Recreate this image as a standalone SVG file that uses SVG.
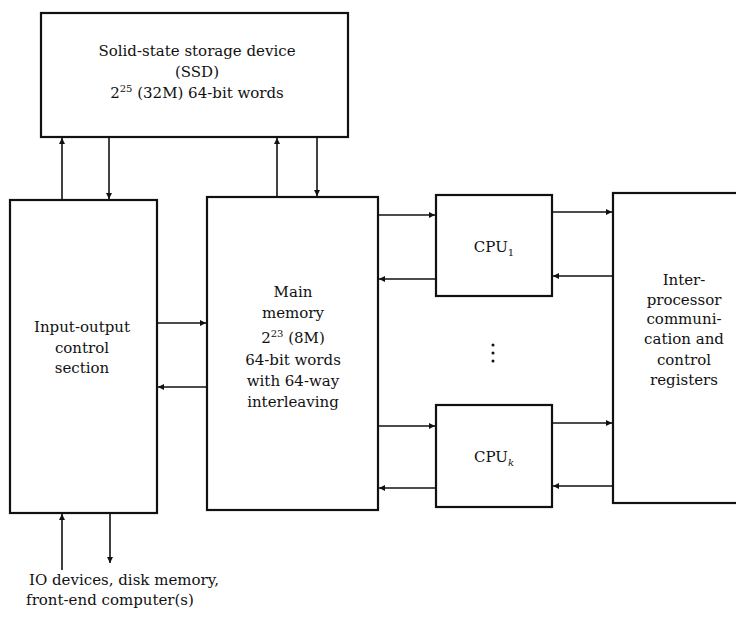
<svg xmlns="http://www.w3.org/2000/svg" width="736" height="618" viewBox="0 0 736 618">
<defs>
<style>
.box{fill:#fff;stroke:#111;stroke-width:2.2}
.t{font-family:"DejaVu Serif","Liberation Serif",serif;font-size:15px;fill:#111;text-anchor:middle}
.c line{stroke:#111;stroke-width:1.6;marker-end:url(#ah)}
</style>
<marker id="ah" viewBox="0 0 10 10" refX="10" refY="5" markerWidth="8" markerHeight="6" markerUnits="userSpaceOnUse" orient="auto">
<path d="M0,0 L10,5 L0,10 z" fill="#111"/>
</marker>
</defs>
<rect width="736" height="618" fill="#fff"/>
<g id="ssd">
<rect class="box" x="41" y="13" width="307" height="124"/>
<text class="t" x="197" y="56">Solid-state storage device</text>
<text class="t" x="197" y="77">(SSD)</text>
<text class="t" x="197" y="98">2<tspan dy="-6" font-size="10">25</tspan><tspan dy="6"> (32M) 64-bit words</tspan></text>
</g>
<g id="io">
<rect class="box" x="10" y="200" width="147" height="313"/>
<text class="t" x="82" y="332">Input-output</text>
<text class="t" x="82" y="353">control</text>
<text class="t" x="82" y="373">section</text>
</g>
<g id="main">
<rect class="box" x="207" y="197" width="171" height="313"/>
<text class="t" x="293" y="297">Main</text>
<text class="t" x="293" y="318">memory</text>
<text class="t" x="293" y="343">2<tspan dy="-6" font-size="10">23</tspan><tspan dy="6"> (8M)</tspan></text>
<text class="t" x="293" y="365">64-bit words</text>
<text class="t" x="293" y="386">with 64-way</text>
<text class="t" x="293" y="407">interleaving</text>
</g>
<g id="cpu1">
<rect class="box" x="436" y="195" width="116" height="101"/>
<text class="t" x="494" y="252">CPU<tspan dy="4" font-size="10">1</tspan></text>
</g>
<g id="dots" fill="#111">
<circle cx="493" cy="345" r="1.5"/>
<circle cx="493" cy="353" r="1.5"/>
<circle cx="493" cy="361" r="1.5"/>
</g>
<g id="cpuk">
<rect class="box" x="436" y="405" width="116" height="102"/>
<text class="t" x="494" y="462">CPU<tspan dy="4" font-size="10" font-style="italic">k</tspan></text>
</g>
<g id="ipc">
<rect class="box" x="613" y="193" width="150" height="310"/>
<text class="t" x="684" y="285">Inter-</text>
<text class="t" x="684" y="305">processor</text>
<text class="t" x="684" y="324">communi-</text>
<text class="t" x="684" y="344">cation and</text>
<text class="t" x="684" y="365">control</text>
<text class="t" x="684" y="385">registers</text>
</g>
<g id="ext">
<text class="t" x="124" y="585">IO devices, disk memory,</text>
<text class="t" x="110" y="605">front-end computer(s)</text>
</g>
<g id="connectors" class="c">
<line x1="62" y1="200" x2="62" y2="138"/>
<line x1="109" y1="137" x2="109" y2="199"/>
<line x1="277" y1="197" x2="277" y2="138"/>
<line x1="317" y1="137" x2="317" y2="196"/>
<line x1="157" y1="323" x2="206" y2="323"/>
<line x1="207" y1="387" x2="158" y2="387"/>
<line x1="378" y1="215" x2="435" y2="215"/>
<line x1="436" y1="279" x2="379" y2="279"/>
<line x1="378" y1="426" x2="435" y2="426"/>
<line x1="436" y1="488" x2="379" y2="488"/>
<line x1="552" y1="212" x2="612" y2="212"/>
<line x1="613" y1="276" x2="553" y2="276"/>
<line x1="552" y1="423" x2="612" y2="423"/>
<line x1="613" y1="486" x2="553" y2="486"/>
<line x1="62" y1="570" x2="62" y2="514"/>
<line x1="110" y1="513" x2="110" y2="563"/>
</g>
</svg>
